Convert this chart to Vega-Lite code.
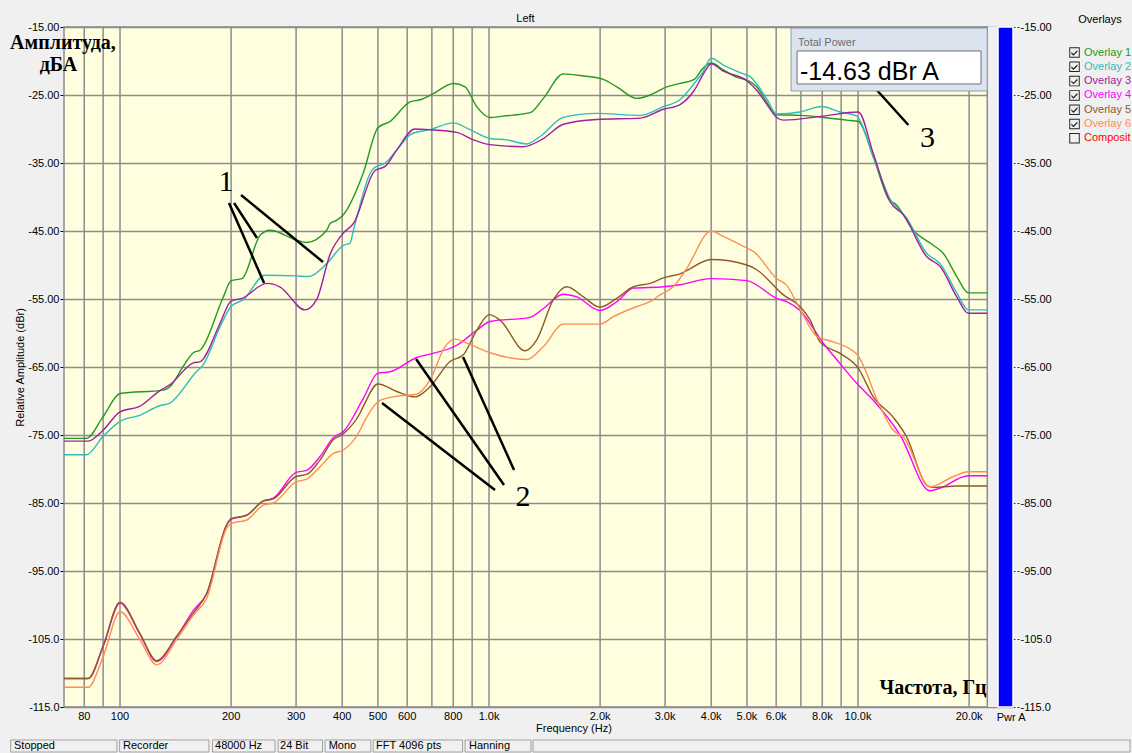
{
  "$schema": "https://vega.github.io/schema/vega-lite/v6.json",
  "width": 949,
  "height": 680,
  "autosize": {"type": "none"},
  "padding": {"left": 64, "top": 27, "right": 119, "bottom": 46},
  "background": "#f0f0f0",
  "title": {"text": "Left", "fontSize": 11, "font": "Liberation Sans", "fontWeight": "normal", "color": "#000000", "offset": -10, "dx": -13},
  "config": {
    "font": "Liberation Sans",
    "view": {"fill": "#ffffe0", "stroke": null},
    "axis": {"labelFont": "Liberation Sans", "labelFontSize": 11, "labelColor": "#000000", "titleFont": "Liberation Sans", "titleFontSize": 11, "titleFontWeight": "normal", "titleColor": "#000000", "domain": false}
  },
  "datasets": {
    "curves": [
      {"s":"Overlay 1","f":70.5,"db":-75.5},{"s":"Overlay 1","f":81,"db":-75.5},{"s":"Overlay 1","f":90,"db":-72.3},{"s":"Overlay 1","f":100,"db":-68.9},{"s":"Overlay 1","f":131,"db":-68.4},{"s":"Overlay 1","f":136.6,"db":-67.9},{"s":"Overlay 1","f":148,"db":-65.0},{"s":"Overlay 1","f":158,"db":-62.9},{"s":"Overlay 1","f":165,"db":-62.5},{"s":"Overlay 1","f":190.5,"db":-54.7},{"s":"Overlay 1","f":200,"db":-52.3},{"s":"Overlay 1","f":214,"db":-52.0},{"s":"Overlay 1","f":240,"db":-45.6},{"s":"Overlay 1","f":255,"db":-44.9},{"s":"Overlay 1","f":300,"db":-46.3},{"s":"Overlay 1","f":320,"db":-46.7},{"s":"Overlay 1","f":363,"db":-44.9},{"s":"Overlay 1","f":371,"db":-43.9},{"s":"Overlay 1","f":387,"db":-43.4},{"s":"Overlay 1","f":403,"db":-42.6},{"s":"Overlay 1","f":456,"db":-36.5},{"s":"Overlay 1","f":500,"db":-29.8},{"s":"Overlay 1","f":539,"db":-28.9},{"s":"Overlay 1","f":611,"db":-26.0},{"s":"Overlay 1","f":650,"db":-25.7},{"s":"Overlay 1","f":706,"db":-24.8},{"s":"Overlay 1","f":800,"db":-23.3},{"s":"Overlay 1","f":861,"db":-23.8},{"s":"Overlay 1","f":926,"db":-26.7},{"s":"Overlay 1","f":1006,"db":-28.3},{"s":"Overlay 1","f":1093,"db":-28.1},{"s":"Overlay 1","f":1292,"db":-27.6},{"s":"Overlay 1","f":1404,"db":-25.5},{"s":"Overlay 1","f":1590,"db":-21.9},{"s":"Overlay 1","f":1802,"db":-22.2},{"s":"Overlay 1","f":2041,"db":-22.7},{"s":"Overlay 1","f":2219,"db":-23.8},{"s":"Overlay 1","f":2514,"db":-25.5},{"s":"Overlay 1","f":2732,"db":-25.0},{"s":"Overlay 1","f":3030,"db":-23.8},{"s":"Overlay 1","f":3293,"db":-23.3},{"s":"Overlay 1","f":3600,"db":-22.7},{"s":"Overlay 1","f":3780,"db":-21.2},{"s":"Overlay 1","f":4000,"db":-20.3},{"s":"Overlay 1","f":4315,"db":-21.3},{"s":"Overlay 1","f":4700,"db":-22.4},{"s":"Overlay 1","f":4994,"db":-22.8},{"s":"Overlay 1","f":5315,"db":-23.8},{"s":"Overlay 1","f":5650,"db":-26.0},{"s":"Overlay 1","f":6022,"db":-27.9},{"s":"Overlay 1","f":7000,"db":-28.0},{"s":"Overlay 1","f":8053,"db":-28.3},{"s":"Overlay 1","f":9320,"db":-28.7},{"s":"Overlay 1","f":10020,"db":-28.9},{"s":"Overlay 1","f":11000,"db":-34.1},{"s":"Overlay 1","f":12080,"db":-40.2},{"s":"Overlay 1","f":12730,"db":-41.2},{"s":"Overlay 1","f":14120,"db":-44.9},{"s":"Overlay 1","f":16000,"db":-47.1},{"s":"Overlay 1","f":17030,"db":-48.3},{"s":"Overlay 1","f":18520,"db":-51.7},{"s":"Overlay 1","f":19900,"db":-54.1},{"s":"Overlay 1","f":22400,"db":-54.1},
      {"s":"Overlay 2","f":70.5,"db":-77.9},{"s":"Overlay 2","f":81,"db":-77.9},{"s":"Overlay 2","f":90,"db":-75.2},{"s":"Overlay 2","f":100,"db":-73.0},{"s":"Overlay 2","f":113,"db":-72.1},{"s":"Overlay 2","f":128,"db":-70.7},{"s":"Overlay 2","f":136.6,"db":-70.3},{"s":"Overlay 2","f":161,"db":-65.7},{"s":"Overlay 2","f":168,"db":-64.7},{"s":"Overlay 2","f":186.6,"db":-59.1},{"s":"Overlay 2","f":200,"db":-56.1},{"s":"Overlay 2","f":216,"db":-55.1},{"s":"Overlay 2","f":247,"db":-51.5},{"s":"Overlay 2","f":300,"db":-51.6},{"s":"Overlay 2","f":324,"db":-51.7},{"s":"Overlay 2","f":363,"db":-49.8},{"s":"Overlay 2","f":403,"db":-47.1},{"s":"Overlay 2","f":420,"db":-46.8},{"s":"Overlay 2","f":429,"db":-44.9},{"s":"Overlay 2","f":486,"db":-35.8},{"s":"Overlay 2","f":523,"db":-35.0},{"s":"Overlay 2","f":562,"db":-33.1},{"s":"Overlay 2","f":617,"db":-30.7},{"s":"Overlay 2","f":692,"db":-30.1},{"s":"Overlay 2","f":800,"db":-29.1},{"s":"Overlay 2","f":888,"db":-30.1},{"s":"Overlay 2","f":1006,"db":-31.4},{"s":"Overlay 2","f":1117,"db":-31.6},{"s":"Overlay 2","f":1266,"db":-32.2},{"s":"Overlay 2","f":1375,"db":-31.1},{"s":"Overlay 2","f":1590,"db":-28.3},{"s":"Overlay 2","f":1958,"db":-27.7},{"s":"Overlay 2","f":2567,"db":-28.0},{"s":"Overlay 2","f":2969,"db":-26.7},{"s":"Overlay 2","f":3293,"db":-25.7},{"s":"Overlay 2","f":3600,"db":-23.3},{"s":"Overlay 2","f":3780,"db":-21.8},{"s":"Overlay 2","f":4000,"db":-19.6},{"s":"Overlay 2","f":4315,"db":-20.6},{"s":"Overlay 2","f":4890,"db":-21.9},{"s":"Overlay 2","f":5098,"db":-22.3},{"s":"Overlay 2","f":5650,"db":-25.5},{"s":"Overlay 2","f":6022,"db":-27.8},{"s":"Overlay 2","f":6962,"db":-27.5},{"s":"Overlay 2","f":7972,"db":-26.7},{"s":"Overlay 2","f":8938,"db":-27.5},{"s":"Overlay 2","f":9919,"db":-28.1},{"s":"Overlay 2","f":11000,"db":-34.1},{"s":"Overlay 2","f":12210,"db":-40.3},{"s":"Overlay 2","f":13550,"db":-43.1},{"s":"Overlay 2","f":15360,"db":-48.3},{"s":"Overlay 2","f":16690,"db":-49.8},{"s":"Overlay 2","f":18520,"db":-54.1},{"s":"Overlay 2","f":19900,"db":-56.6},{"s":"Overlay 2","f":22400,"db":-56.6},
      {"s":"Overlay 3","f":70.5,"db":-75.9},{"s":"Overlay 3","f":82,"db":-75.9},{"s":"Overlay 3","f":90,"db":-74.3},{"s":"Overlay 3","f":100,"db":-71.6},{"s":"Overlay 3","f":113,"db":-70.8},{"s":"Overlay 3","f":128,"db":-68.5},{"s":"Overlay 3","f":136.6,"db":-67.6},{"s":"Overlay 3","f":158,"db":-64.4},{"s":"Overlay 3","f":165,"db":-64.2},{"s":"Overlay 3","f":186.6,"db":-58.6},{"s":"Overlay 3","f":200,"db":-55.3},{"s":"Overlay 3","f":214,"db":-54.9},{"s":"Overlay 3","f":250,"db":-52.7},{"s":"Overlay 3","f":271,"db":-53.2},{"s":"Overlay 3","f":317,"db":-56.6},{"s":"Overlay 3","f":341,"db":-55.1},{"s":"Overlay 3","f":371,"db":-48.4},{"s":"Overlay 3","f":403,"db":-45.3},{"s":"Overlay 3","f":429,"db":-43.9},{"s":"Overlay 3","f":491,"db":-36.1},{"s":"Overlay 3","f":523,"db":-35.5},{"s":"Overlay 3","f":562,"db":-33.1},{"s":"Overlay 3","f":630,"db":-30.0},{"s":"Overlay 3","f":692,"db":-30.1},{"s":"Overlay 3","f":818,"db":-30.5},{"s":"Overlay 3","f":907,"db":-31.6},{"s":"Overlay 3","f":1006,"db":-32.3},{"s":"Overlay 3","f":1239,"db":-32.6},{"s":"Overlay 3","f":1404,"db":-31.4},{"s":"Overlay 3","f":1590,"db":-29.3},{"s":"Overlay 3","f":1958,"db":-28.6},{"s":"Overlay 3","f":2567,"db":-28.4},{"s":"Overlay 3","f":2969,"db":-27.1},{"s":"Overlay 3","f":3293,"db":-26.4},{"s":"Overlay 3","f":3600,"db":-24.3},{"s":"Overlay 3","f":3870,"db":-21.3},{"s":"Overlay 3","f":4000,"db":-20.4},{"s":"Overlay 3","f":4315,"db":-21.5},{"s":"Overlay 3","f":4994,"db":-22.9},{"s":"Overlay 3","f":5315,"db":-24.3},{"s":"Overlay 3","f":5650,"db":-26.3},{"s":"Overlay 3","f":6022,"db":-28.3},{"s":"Overlay 3","f":6276,"db":-28.7},{"s":"Overlay 3","f":8053,"db":-28.1},{"s":"Overlay 3","f":10020,"db":-27.5},{"s":"Overlay 3","f":11000,"db":-33.6},{"s":"Overlay 3","f":12210,"db":-40.7},{"s":"Overlay 3","f":13270,"db":-42.6},{"s":"Overlay 3","f":15360,"db":-48.8},{"s":"Overlay 3","f":16690,"db":-50.2},{"s":"Overlay 3","f":18520,"db":-54.7},{"s":"Overlay 3","f":19900,"db":-57.1},{"s":"Overlay 3","f":22400,"db":-57.1},
      {"s":"Overlay 4","f":70.5,"db":-110.8},{"s":"Overlay 4","f":82,"db":-110.8},{"s":"Overlay 4","f":90,"db":-106.1},{"s":"Overlay 4","f":100,"db":-99.7},{"s":"Overlay 4","f":113,"db":-104.2},{"s":"Overlay 4","f":125.7,"db":-108.3},{"s":"Overlay 4","f":142.4,"db":-104.7},{"s":"Overlay 4","f":158,"db":-100.8},{"s":"Overlay 4","f":171.8,"db":-98.3},{"s":"Overlay 4","f":194.6,"db":-88.2},{"s":"Overlay 4","f":200,"db":-87.4},{"s":"Overlay 4","f":220.5,"db":-86.8},{"s":"Overlay 4","f":244.5,"db":-84.7},{"s":"Overlay 4","f":260.3,"db":-84.3},{"s":"Overlay 4","f":300,"db":-80.5},{"s":"Overlay 4","f":320.6,"db":-80.2},{"s":"Overlay 4","f":348,"db":-78.2},{"s":"Overlay 4","f":378.5,"db":-75.4},{"s":"Overlay 4","f":403,"db":-74.5},{"s":"Overlay 4","f":456.4,"db":-69.6},{"s":"Overlay 4","f":500,"db":-65.9},{"s":"Overlay 4","f":539,"db":-65.7},{"s":"Overlay 4","f":637,"db":-63.6},{"s":"Overlay 4","f":692,"db":-63.1},{"s":"Overlay 4","f":818,"db":-61.8},{"s":"Overlay 4","f":926,"db":-59.6},{"s":"Overlay 4","f":1006,"db":-58.3},{"s":"Overlay 4","f":1292,"db":-57.7},{"s":"Overlay 4","f":1404,"db":-56.4},{"s":"Overlay 4","f":1590,"db":-54.3},{"s":"Overlay 4","f":1729,"db":-54.7},{"s":"Overlay 4","f":1999,"db":-56.7},{"s":"Overlay 4","f":2219,"db":-55.4},{"s":"Overlay 4","f":2462,"db":-53.4},{"s":"Overlay 4","f":2969,"db":-53.2},{"s":"Overlay 4","f":3293,"db":-52.9},{"s":"Overlay 4","f":4000,"db":-52.0},{"s":"Overlay 4","f":4994,"db":-52.3},{"s":"Overlay 4","f":6022,"db":-54.9},{"s":"Overlay 4","f":6409,"db":-55.4},{"s":"Overlay 4","f":6962,"db":-56.7},{"s":"Overlay 4","f":8053,"db":-61.5},{"s":"Overlay 4","f":8938,"db":-64.5},{"s":"Overlay 4","f":9919,"db":-67.4},{"s":"Overlay 4","f":11000,"db":-69.9},{"s":"Overlay 4","f":13000,"db":-75.0},{"s":"Overlay 4","f":15670,"db":-83.2},{"s":"Overlay 4","f":16690,"db":-82.8},{"s":"Overlay 4","f":19900,"db":-81.0},{"s":"Overlay 4","f":22400,"db":-81.0},
      {"s":"Overlay 5","f":70.5,"db":-110.8},{"s":"Overlay 5","f":82,"db":-110.8},{"s":"Overlay 5","f":90,"db":-106.0},{"s":"Overlay 5","f":100,"db":-99.6},{"s":"Overlay 5","f":113,"db":-104.1},{"s":"Overlay 5","f":125.7,"db":-108.2},{"s":"Overlay 5","f":142.4,"db":-104.6},{"s":"Overlay 5","f":158,"db":-101.2},{"s":"Overlay 5","f":171.8,"db":-98.3},{"s":"Overlay 5","f":194.6,"db":-88.2},{"s":"Overlay 5","f":200,"db":-87.3},{"s":"Overlay 5","f":220.5,"db":-86.8},{"s":"Overlay 5","f":244.5,"db":-84.7},{"s":"Overlay 5","f":260.3,"db":-84.4},{"s":"Overlay 5","f":300,"db":-81.1},{"s":"Overlay 5","f":320.6,"db":-80.8},{"s":"Overlay 5","f":348,"db":-78.7},{"s":"Overlay 5","f":378.5,"db":-75.7},{"s":"Overlay 5","f":403,"db":-74.8},{"s":"Overlay 5","f":447,"db":-71.8},{"s":"Overlay 5","f":456.4,"db":-70.8},{"s":"Overlay 5","f":500,"db":-67.5},{"s":"Overlay 5","f":562,"db":-68.6},{"s":"Overlay 5","f":630,"db":-69.4},{"s":"Overlay 5","f":692,"db":-67.9},{"s":"Overlay 5","f":784,"db":-64.2},{"s":"Overlay 5","f":852,"db":-63.2},{"s":"Overlay 5","f":926,"db":-59.6},{"s":"Overlay 5","f":1002,"db":-57.3},{"s":"Overlay 5","f":1071,"db":-58.1},{"s":"Overlay 5","f":1252,"db":-62.6},{"s":"Overlay 5","f":1347,"db":-61.0},{"s":"Overlay 5","f":1494,"db":-55.1},{"s":"Overlay 5","f":1624,"db":-53.2},{"s":"Overlay 5","f":1802,"db":-54.7},{"s":"Overlay 5","f":1999,"db":-56.2},{"s":"Overlay 5","f":2219,"db":-54.9},{"s":"Overlay 5","f":2462,"db":-53.2},{"s":"Overlay 5","f":2732,"db":-52.7},{"s":"Overlay 5","f":2969,"db":-51.9},{"s":"Overlay 5","f":3293,"db":-51.3},{"s":"Overlay 5","f":4000,"db":-49.2},{"s":"Overlay 5","f":4994,"db":-50.0},{"s":"Overlay 5","f":5315,"db":-50.7},{"s":"Overlay 5","f":6276,"db":-54.4},{"s":"Overlay 5","f":6962,"db":-56.1},{"s":"Overlay 5","f":7420,"db":-58.1},{"s":"Overlay 5","f":7888,"db":-61.3},{"s":"Overlay 5","f":8938,"db":-63.0},{"s":"Overlay 5","f":10020,"db":-65.2},{"s":"Overlay 5","f":11000,"db":-69.4},{"s":"Overlay 5","f":12460,"db":-72.4},{"s":"Overlay 5","f":13550,"db":-75.3},{"s":"Overlay 5","f":15360,"db":-82.4},{"s":"Overlay 5","f":16000,"db":-82.7},{"s":"Overlay 5","f":18520,"db":-82.5},{"s":"Overlay 5","f":22400,"db":-82.5},
      {"s":"Overlay 6","f":70.5,"db":-112.1},{"s":"Overlay 6","f":82,"db":-112.1},{"s":"Overlay 6","f":90,"db":-107.6},{"s":"Overlay 6","f":100,"db":-101.0},{"s":"Overlay 6","f":113,"db":-105.0},{"s":"Overlay 6","f":125.7,"db":-108.8},{"s":"Overlay 6","f":142.4,"db":-105.1},{"s":"Overlay 6","f":158,"db":-101.5},{"s":"Overlay 6","f":171.8,"db":-99.0},{"s":"Overlay 6","f":194.6,"db":-88.7},{"s":"Overlay 6","f":200,"db":-88.0},{"s":"Overlay 6","f":220.5,"db":-87.5},{"s":"Overlay 6","f":244.5,"db":-85.3},{"s":"Overlay 6","f":260.3,"db":-85.0},{"s":"Overlay 6","f":300,"db":-81.9},{"s":"Overlay 6","f":320.6,"db":-81.5},{"s":"Overlay 6","f":348,"db":-79.7},{"s":"Overlay 6","f":378.5,"db":-77.7},{"s":"Overlay 6","f":403,"db":-77.2},{"s":"Overlay 6","f":447,"db":-74.3},{"s":"Overlay 6","f":456.4,"db":-73.3},{"s":"Overlay 6","f":507,"db":-69.9},{"s":"Overlay 6","f":562,"db":-69.3},{"s":"Overlay 6","f":637,"db":-69.0},{"s":"Overlay 6","f":692,"db":-66.9},{"s":"Overlay 6","f":760,"db":-62.0},{"s":"Overlay 6","f":809,"db":-60.9},{"s":"Overlay 6","f":870,"db":-61.5},{"s":"Overlay 6","f":1006,"db":-62.9},{"s":"Overlay 6","f":1266,"db":-63.9},{"s":"Overlay 6","f":1404,"db":-62.0},{"s":"Overlay 6","f":1590,"db":-58.7},{"s":"Overlay 6","f":1999,"db":-58.7},{"s":"Overlay 6","f":2172,"db":-57.6},{"s":"Overlay 6","f":2514,"db":-56.1},{"s":"Overlay 6","f":2732,"db":-55.4},{"s":"Overlay 6","f":2906,"db":-54.4},{"s":"Overlay 6","f":3159,"db":-53.2},{"s":"Overlay 6","f":3434,"db":-50.5},{"s":"Overlay 6","f":4000,"db":-45.0},{"s":"Overlay 6","f":4315,"db":-45.8},{"s":"Overlay 6","f":4994,"db":-47.5},{"s":"Overlay 6","f":5204,"db":-48.0},{"s":"Overlay 6","f":6022,"db":-52.0},{"s":"Overlay 6","f":6409,"db":-53.0},{"s":"Overlay 6","f":6962,"db":-56.5},{"s":"Overlay 6","f":7728,"db":-60.5},{"s":"Overlay 6","f":8575,"db":-61.3},{"s":"Overlay 6","f":9919,"db":-63.1},{"s":"Overlay 6","f":11470,"db":-70.8},{"s":"Overlay 6","f":12460,"db":-74.3},{"s":"Overlay 6","f":13270,"db":-75.3},{"s":"Overlay 6","f":15670,"db":-82.6},{"s":"Overlay 6","f":18130,"db":-81.1},{"s":"Overlay 6","f":19900,"db":-80.4},{"s":"Overlay 6","f":22400,"db":-80.4}
    ],
    "freqgrid": [
      {"f":80,"t":"80"},{"f":90,"t":""},{"f":100,"t":"100"},{"f":200,"t":"200"},{"f":300,"t":"300"},{"f":400,"t":"400"},{"f":500,"t":"500"},{"f":600,"t":"600"},{"f":700,"t":""},{"f":800,"t":"800"},{"f":900,"t":""},
      {"f":1000,"t":"1.0k"},{"f":2000,"t":"2.0k"},{"f":3000,"t":"3.0k"},{"f":4000,"t":"4.0k"},{"f":5000,"t":"5.0k"},{"f":6000,"t":"6.0k"},{"f":7000,"t":""},{"f":8000,"t":"8.0k"},{"f":9000,"t":""},{"f":10000,"t":"10.0k"},{"f":20000,"t":"20.0k"}
    ],
    "pointers": [
      {"f":197.4,"db":-40.88,"f2":245.7,"db2":-52.65},
      {"f":203.7,"db":-40.88,"f2":235.1,"db2":-46.03},
      {"f":212.8,"db":-39.71,"f2":354.9,"db2":-49.56},
      {"f":512.9,"db":-70.29,"f2":1038,"db2":-83.09},
      {"f":634.2,"db":-63.82,"f2":1098,"db2":-82.35},
      {"f":850.4,"db":-63.53,"f2":1169,"db2":-80.15},
      {"f":11240,"db":-24.26,"f2":13690,"db2":-29.41}
    ],
    "numbers": [
      {"f":193.8,"db":-37.8,"t":"1"},
      {"f":1236,"db":-84.1,"t":"2"},
      {"f":15430,"db":-31.3,"t":"3"}
    ],
    "captions": [
      {"f":70.06,"db":-18.24,"t":"Амплитуда,"},
      {"f":68.1,"db":-21.43,"t":"дБА"},
      {"f":15970,"db":-113.09,"t":"Частота, Гц"}
    ],
    "smalltext": [
      {"f":1699,"db":-118.24,"t":"Frequency (Hz)"},
      {"f":25990,"db":-116.6,"t":"Pwr A"}
    ],
    "status": [
      {"f":50.55,"f2":98.1,"ft":51.6,"t":"Stopped"},
      {"f":99.75,"f2":174.2,"ft":101.9,"t":"Recorder"},
      {"f":178.1,"f2":263.1,"ft":180.9,"t":"48000 Hz"},
      {"f":268.1,"f2":353.8,"ft":271.5,"t":"24 Bit"},
      {"f":359.4,"f2":478.1,"ft":367.6,"t":"Mono"},
      {"f":485.1,"f2":847.8,"ft":494.2,"t":"FFT 4096 pts"},
      {"f":861.1,"f2":1299.6,"ft":882.8,"t":"Hanning"},
      {"f":1316,"f2":54600,"ft":1330,"t":""}
    ]
  },
  "resolve": {"axis": {"y": "independent"}},
  "layer": [
    {
      "data": {"values": [{"f": 22400, "f2": 23950, "db": -15, "db2": -115}]},
      "mark": {"type": "rect", "color": "#f0f0f0"},
      "encoding": {
        "x": {"field": "f", "type": "quantitative", "scale": {"type": "log", "domain": [70.5, 26300], "nice": false}, "axis": null},
        "x2": {"field": "f2"},
        "y": {"field": "db", "type": "quantitative", "scale": {"domain": [-115, -15], "nice": false, "zero": false}, "axis": null},
        "y2": {"field": "db2"}
      }
    },
    {
      "data": {"values": [{"f": 23950, "f2": 26300, "db": -15, "db2": -115}]},
      "mark": {"type": "rect", "color": "#0000ff", "stroke": "#ffffff", "strokeWidth": 1.5},
      "encoding": {
        "x": {"field": "f", "type": "quantitative", "scale": {"type": "log", "domain": [70.5, 26300], "nice": false}, "axis": null},
        "x2": {"field": "f2"},
        "y": {"field": "db", "type": "quantitative", "scale": {"domain": [-115, -15], "nice": false, "zero": false},
              "axis": {"orient": "right", "title": null, "values": [-15,-25,-35,-45,-55,-65,-75,-85,-95,-105,-115], "labelExpr": "'-' + format(-datum.value, '.4r')", "grid": false, "ticks": true, "tickSize": 6, "tickDash": [2, 2], "tickColor": "#333333", "labelPadding": 1}},
        "y2": {"field": "db2"}
      }
    },
    {
      "data": {"name": "freqgrid"},
      "mark": {"type": "rule", "color": "#8c8c8c", "strokeWidth": 1.5},
      "encoding": {
        "x": {"field": "f", "type": "quantitative", "scale": {"type": "log", "domain": [70.5, 26300], "nice": false}, "axis": null},
        "y": {"datum": -15, "type": "quantitative", "scale": {"domain": [-115, -15], "nice": false, "zero": false}, "axis": null},
        "y2": {"datum": -115}
      }
    },
    {
      "data": {"name": "freqgrid"},
      "mark": {"type": "text", "fontSize": 11, "color": "#000000", "align": "center", "baseline": "middle"},
      "encoding": {
        "x": {"field": "f", "type": "quantitative", "scale": {"type": "log", "domain": [70.5, 26300], "nice": false}, "axis": null},
        "y": {"datum": -116.54, "type": "quantitative", "scale": {"domain": [-115, -15], "nice": false, "zero": false}, "axis": null},
        "text": {"field": "t"}
      }
    },
    {
      "data": {"values": [{"f": 70.5, "f2": 22400, "db": -15, "db2": -115}]},
      "mark": {"type": "rect", "fillOpacity": 0, "stroke": "#8c8c8c", "strokeWidth": 1.5},
      "encoding": {
        "x": {"field": "f", "type": "quantitative", "scale": {"type": "log", "domain": [70.5, 26300], "nice": false}, "axis": null},
        "x2": {"field": "f2"},
        "y": {"field": "db", "type": "quantitative", "scale": {"domain": [-115, -15], "nice": false, "zero": false}, "axis": null},
        "y2": {"field": "db2"}
      }
    },
    {
      "data": {"name": "curves"},
      "mark": {"type": "line", "interpolate": "monotone", "strokeWidth": 1.4},
      "encoding": {
        "x": {"field": "f", "type": "quantitative", "scale": {"type": "log", "domain": [70.5, 26300], "nice": false}, "axis": null},
        "y": {"field": "db", "type": "quantitative", "scale": {"domain": [-115, -15], "nice": false, "zero": false},
              "axis": {"orient": "left", "title": "Relative Amplitude (dBr)", "values": [-15,-25,-35,-45,-55,-65,-75,-85,-95,-105,-115], "labelExpr": "'-' + format(-datum.value, '.4r')", "grid": true, "gridColor": "#8c8c8c", "gridWidth": 1.5, "tickSize": 4, "tickColor": "#000000", "labelPadding": 1, "titlePadding": 2}},
        "color": {"field": "s", "type": "nominal",
                  "scale": {"domain": ["Overlay 1","Overlay 2","Overlay 3","Overlay 4","Overlay 5","Overlay 6","Composit"], "range": ["#229922","#2ebcbc","#a020a0","#ff00ff","#8b5a2b","#ff8c55","#ff0000"]},
                  "legend": {"title": "Overlays", "orient": "none", "legendX": 1005, "legendY": -13, "padding": 0,
                             "titleAnchor": "middle", "titleFont": "Liberation Sans", "titleFontSize": 11, "titleFontWeight": "normal", "titleColor": "#000000", "titlePadding": 22,
                             "labelFont": "Liberation Sans", "labelFontSize": 11, "labelOffset": 4, "symbolType": "square", "symbolSize": 110, "rowPadding": 2.3,
                             "encode": {
                               "symbols": {"update": {"fill": {"value": "#222222"}, "strokeWidth": {"value": 0}, "strokeOpacity": {"value": 0}, "opacity": {"value": 1},
                                                      "shape": {"signal": "datum.value === 'Composit' ? 'M-1,-1H1V1H-1Z M-0.82,-0.82V0.82H0.82V-0.82Z' : 'M-1,-1H1V1H-1Z M-0.82,-0.82V0.82H0.82V-0.82Z M-0.6,-0.1L-0.2,0.3L0.55,-0.5L0.55,-0.12L-0.2,0.62L-0.6,0.22Z'"}}},
                               "labels": {"update": {"fill": {"scale": "color", "field": "value"}}}
                             }}}
      }
    },
    {
      "data": {"name": "pointers"},
      "mark": {"type": "rule", "color": "#000000", "strokeWidth": 2.5},
      "encoding": {
        "x": {"field": "f", "type": "quantitative", "scale": {"type": "log", "domain": [70.5, 26300], "nice": false}, "axis": null},
        "x2": {"field": "f2"},
        "y": {"field": "db", "type": "quantitative", "scale": {"domain": [-115, -15], "nice": false, "zero": false}, "axis": null},
        "y2": {"field": "db2"}
      }
    },
    {
      "data": {"name": "numbers"},
      "mark": {"type": "text", "font": "Liberation Serif", "fontSize": 30, "color": "#000000", "align": "center", "baseline": "middle"},
      "encoding": {
        "x": {"field": "f", "type": "quantitative", "scale": {"type": "log", "domain": [70.5, 26300], "nice": false}, "axis": null},
        "y": {"field": "db", "type": "quantitative", "scale": {"domain": [-115, -15], "nice": false, "zero": false}, "axis": null},
        "text": {"field": "t"}
      }
    },
    {
      "data": {"name": "captions"},
      "mark": {"type": "text", "font": "Liberation Serif", "fontSize": 20, "fontWeight": "bold", "color": "#000000", "align": "center", "baseline": "alphabetic"},
      "encoding": {
        "x": {"field": "f", "type": "quantitative", "scale": {"type": "log", "domain": [70.5, 26300], "nice": false}, "axis": null},
        "y": {"field": "db", "type": "quantitative", "scale": {"domain": [-115, -15], "nice": false, "zero": false}, "axis": null},
        "text": {"field": "t"}
      }
    },
    {
      "data": {"values": [{"f": 6583, "f2": 22400, "db": -15.15, "db2": -24.41}]},
      "mark": {"type": "rect", "fill": "#dbe4ee", "stroke": "#8a9ab0", "strokeWidth": 1},
      "encoding": {
        "x": {"field": "f", "type": "quantitative", "scale": {"type": "log", "domain": [70.5, 26300], "nice": false}, "axis": null},
        "x2": {"field": "f2"},
        "y": {"field": "db", "type": "quantitative", "scale": {"domain": [-115, -15], "nice": false, "zero": false}, "axis": null},
        "y2": {"field": "db2"}
      }
    },
    {
      "data": {"values": [{"f": 6836, "f2": 21540, "db": -18.53, "db2": -23.38}]},
      "mark": {"type": "rect", "fill": "#ffffff", "stroke": "#6e6e6e", "strokeWidth": 1},
      "encoding": {
        "x": {"field": "f", "type": "quantitative", "scale": {"type": "log", "domain": [70.5, 26300], "nice": false}, "axis": null},
        "x2": {"field": "f2"},
        "y": {"field": "db", "type": "quantitative", "scale": {"domain": [-115, -15], "nice": false, "zero": false}, "axis": null},
        "y2": {"field": "db2"}
      }
    },
    {
      "data": {"values": [{"f": 6879, "db": -17.28, "t": "Total Power"}]},
      "mark": {"type": "text", "fontSize": 11, "color": "#6b6b6b", "align": "left", "baseline": "middle"},
      "encoding": {
        "x": {"field": "f", "type": "quantitative", "scale": {"type": "log", "domain": [70.5, 26300], "nice": false}, "axis": null},
        "y": {"field": "db", "type": "quantitative", "scale": {"domain": [-115, -15], "nice": false, "zero": false}, "axis": null},
        "text": {"field": "t"}
      }
    },
    {
      "data": {"values": [{"f": 6962, "db": -22.79, "t": "-14.63 dBr A"}]},
      "mark": {"type": "text", "fontSize": 25, "color": "#000000", "align": "left", "baseline": "alphabetic"},
      "encoding": {
        "x": {"field": "f", "type": "quantitative", "scale": {"type": "log", "domain": [70.5, 26300], "nice": false}, "axis": null},
        "y": {"field": "db", "type": "quantitative", "scale": {"domain": [-115, -15], "nice": false, "zero": false}, "axis": null},
        "text": {"field": "t"}
      }
    },
    {
      "data": {"name": "smalltext"},
      "mark": {"type": "text", "fontSize": 11, "color": "#000000", "align": "center", "baseline": "middle"},
      "encoding": {
        "x": {"field": "f", "type": "quantitative", "scale": {"type": "log", "domain": [70.5, 26300], "nice": false}, "axis": null},
        "y": {"field": "db", "type": "quantitative", "scale": {"domain": [-115, -15], "nice": false, "zero": false}, "axis": null},
        "text": {"field": "t"}
      }
    },
    {
      "data": {"name": "status"},
      "mark": {"type": "rect", "fill": "#f0f0f0", "stroke": "#a0a0a0", "strokeWidth": 1},
      "encoding": {
        "x": {"field": "f", "type": "quantitative", "scale": {"type": "log", "domain": [70.5, 26300], "nice": false}, "axis": null},
        "x2": {"field": "f2"},
        "y": {"datum": -119.85, "type": "quantitative", "scale": {"domain": [-115, -15], "nice": false, "zero": false}, "axis": null},
        "y2": {"datum": -121.62}
      }
    },
    {
      "data": {"name": "status"},
      "mark": {"type": "text", "fontSize": 11, "color": "#000000", "align": "left", "baseline": "middle"},
      "encoding": {
        "x": {"field": "ft", "type": "quantitative", "scale": {"type": "log", "domain": [70.5, 26300], "nice": false}, "axis": null},
        "y": {"datum": -120.74, "type": "quantitative", "scale": {"domain": [-115, -15], "nice": false, "zero": false}, "axis": null},
        "text": {"field": "t"}
      }
    }
  ]
}
